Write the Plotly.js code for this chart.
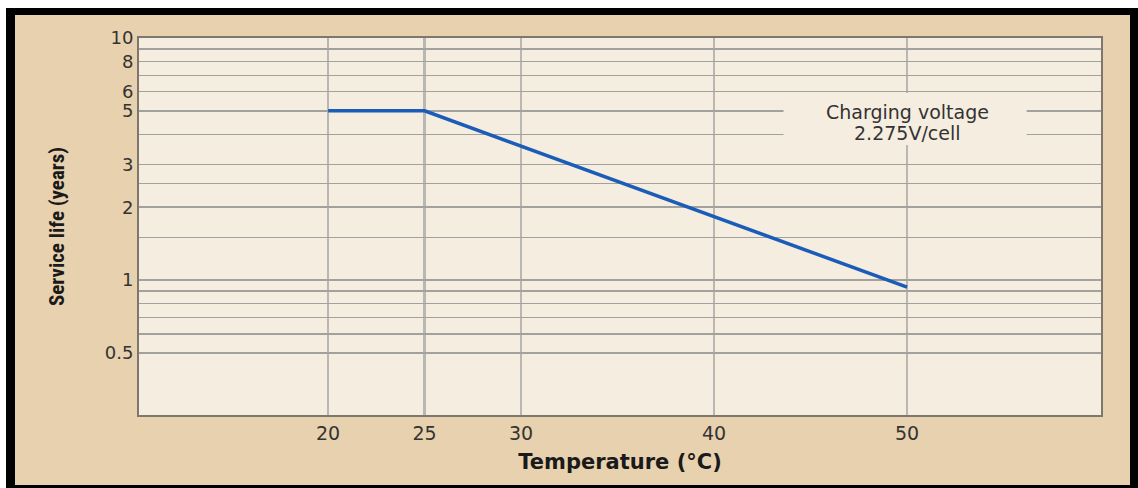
<!DOCTYPE html>
<html><head><meta charset="utf-8">
<script src="https://cdn.plot.ly/plotly-3.0.1.min.js"></script>
<style>
html,body{margin:0;padding:0;background:#fff;width:1138px;height:488px;overflow:hidden}
#frame{position:absolute;left:6px;top:8px;width:1132px;height:480px;background:#000}
#chart{position:absolute;left:9px;top:7px;width:1115px;height:470px}
</style></head>
<body><div id="frame"><div id="chart"></div></div>
<script>
const temperature = [20, 25, 50];
const serviceLife = [5, 5, 0.935];
const xTickVals = [20, 25, 30, 40, 50];
const xTickText = ['20', '25', '30', '40', '50'];
const yGridVals = [10, 9, 8, 7, 6, 5, 4, 3, 2.5, 2, 1.5, 1, 0.9, 0.8, 0.7, 0.6, 0.5];
const yGridText = ['10', '', '8', '', '6', '5', '', '3', '', '2', '', '1', '', '', '', '', '0.5'];
const noteLines = ['Charging voltage', '2.275V/cell'];

const trace = {
  x: temperature, y: serviceLife, type: 'scatter', mode: 'lines',
  line: {color: '#1b5cb8', width: 3.5}, hoverinfo: 'skip', showlegend: false
};
const bg = '#f5eddf';
const layout = {
  width: 1115, height: 470,
  margin: {l: 124, r: 29, t: 23, b: 70},
  paper_bgcolor: '#e8d1ae', plot_bgcolor: bg,
  font: {family: 'DejaVu Sans, sans-serif', color: '#333'},
  xaxis: {
    range: [10.2, 60.05], tickvals: xTickVals, ticktext: xTickText,
    showgrid: true, gridcolor: '#b9b7b3', gridwidth: 2.5,
    showline: true, mirror: true, linecolor: '#7d776e', linewidth: 2,
    ticks: '', zeroline: false, tickfont: {size: 19, color: '#333'},
    title: {text: 'Temperature (°C)', font: {size: 21, color: '#1a1a1a', weight: 'bold'}, standoff: 12}
  },
  yaxis: {
    type: 'log', range: [Math.log10(0.277), 1],
    tickvals: yGridVals, ticktext: yGridText,
    showgrid: true, gridcolor: '#a3a19d', gridwidth: 1.5,
    showline: true, mirror: true, linecolor: '#7d776e', linewidth: 2,
    ticks: '', zeroline: false, tickfont: {size: 18, color: '#333'},
    title: {text: 'Service life (years)', font: {family: '"Liberation Sans Narrow", "Roboto Condensed", "DejaVu Sans Condensed", sans-serif', size: 21, color: '#1a1a1a', weight: 'bold'}, standoff: 34}
  },
  shapes: [{
    type: 'rect', xref: 'x', yref: 'paper', x0: 43.6, x1: 56.2, y0: 0.716, y1: 0.854,
    fillcolor: bg, line: {width: 0}, layer: 'above'
  }],
  annotations: [
    {x: 50, y: 0.805, xref: 'x', yref: 'paper', xanchor: 'center', yanchor: 'middle',
     text: noteLines[0], showarrow: false, font: {size: 19, color: '#333'}},
    {x: 50, y: 0.749, xref: 'x', yref: 'paper', xanchor: 'center', yanchor: 'middle',
     text: noteLines[1], showarrow: false, font: {size: 19, color: '#333'}}
  ]
};
Plotly.newPlot('chart', [trace], layout, {displayModeBar: false, staticPlot: true});
</script></body></html>
